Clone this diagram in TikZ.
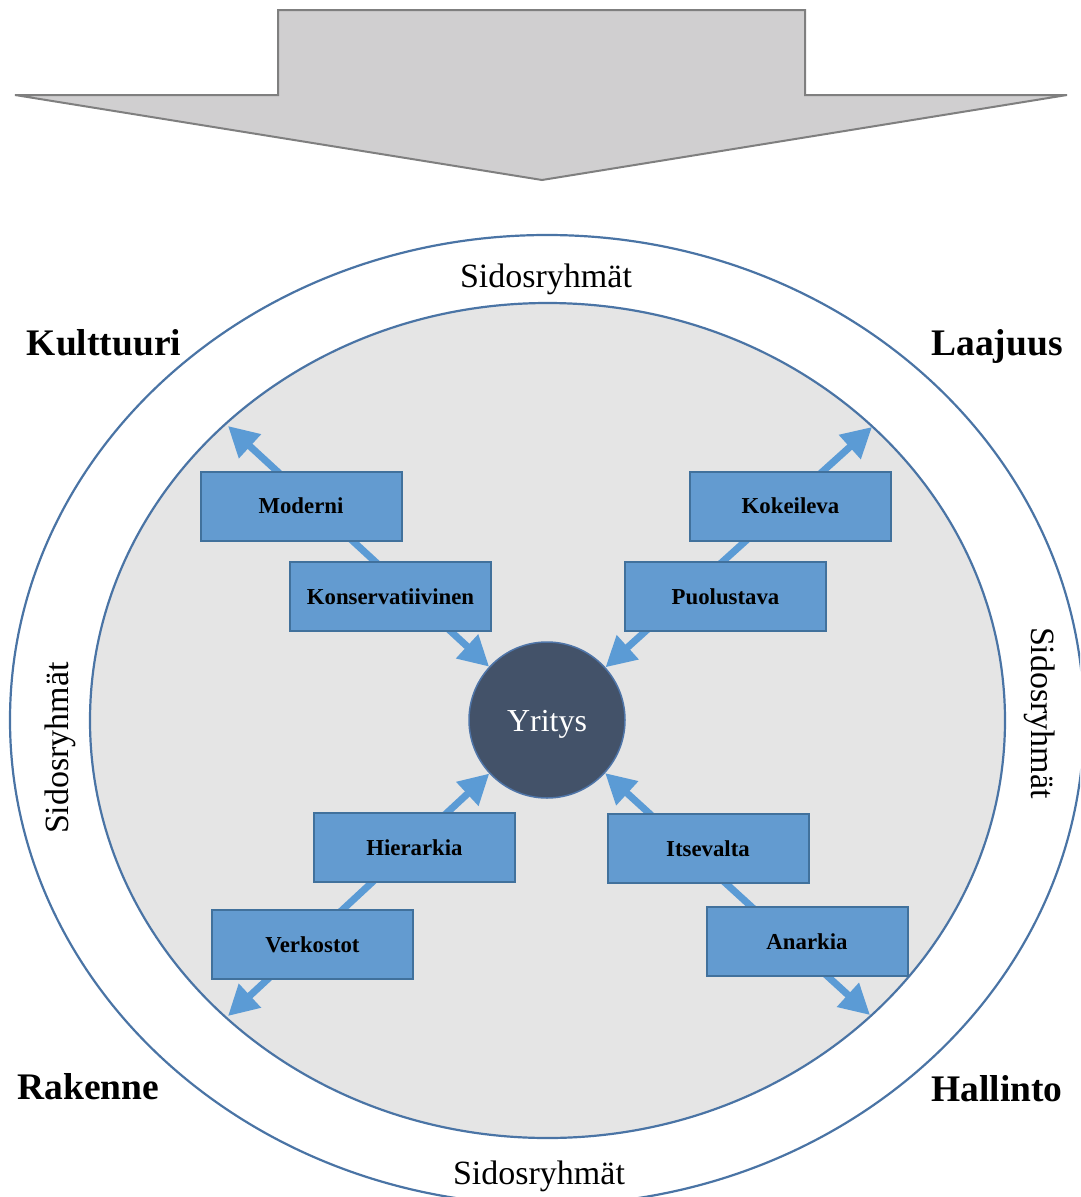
\documentclass[tikz,border=0pt]{standalone}
\usepackage{fontspec}
\setmainfont{Liberation Serif}
\usetikzlibrary{arrows.meta}

\definecolor{arrowgray}{HTML}{D0CFD0}
\definecolor{arrowedge}{HTML}{7F7F7F}
\definecolor{ringedge}{HTML}{4A74A5}
\definecolor{innerfill}{HTML}{E5E5E5}
\definecolor{boxfill}{HTML}{639BD0}
\definecolor{boxedge}{HTML}{41719C}
\definecolor{linkblue}{HTML}{5B9BD5}
\definecolor{corefill}{HTML}{435269}
\definecolor{coreedge}{HTML}{4F75A8}

\tikzset{
  ring/.style={draw=ringedge, line width=2.2pt},
  stylebox/.style={draw=boxedge, fill=boxfill, line width=2pt,
    minimum width=201pt, minimum height=69pt, inner sep=0pt,
    font=\fontsize{22.8}{24}\selectfont\bfseries},
  corner/.style={font=\fontsize{37.5}{40}\selectfont\bfseries, inner sep=0pt, anchor=base},
  stake/.style={font=\fontsize{34}{38}\selectfont, inner sep=0pt},
  link/.style={draw=linkblue, line width=7pt,
    {Triangle[length=30pt,width=31pt]}-{Triangle[length=30pt,width=31pt]}},
}

\begin{document}
\begin{tikzpicture}[x=1pt,y=-1pt]
\useasboundingbox (0,0) rectangle (1080,1197);
\clip (0,0) rectangle (1080,1197);

% big downward block arrow
\draw[fill=arrowgray, draw=arrowedge, line width=2pt, line join=miter]
  (278,10) -- (805,10) -- (805,95) -- (1067,95) -- (542,180)
  -- (15,95) -- (278,95) -- cycle;

% stakeholder ring and inner field
\draw[ring, fill=white] (547,720) ellipse [x radius=537, y radius=485];
\draw[ring, fill=innerfill] (547.5,720.5) ellipse [x radius=457.5, y radius=417.5];

% ring labels
\node[stake] (stop) at (546,279) {Sidosryhmät};
\node[stake] (sbottom) at (539,1176) {Sidosryhmät};
\node[stake, rotate=90] (sleft) at (60,748) {Sidosryhmät};
\node[stake, rotate=-90] (sright) at (1040,713) {Sidosryhmät};

% corner labels
\node[corner] (kulttuuri) at (104,355) {Kulttuuri};
\node[corner] (laajuus) at (997,355) {Laajuus};
\node[corner] (rakenne) at (88.5,1099) {Rakenne};
\node[corner] (hallinto) at (997,1101) {Hallinto};

% company at the centre
\node[circle, minimum size=156pt, inner sep=0pt, fill=corefill,
  draw=coreedge, line width=1.5pt, text=white,
  font=\fontsize{32}{34}\selectfont] (yritys) at (547,720) {};
\node[text=white, font=\fontsize{32}{34}\selectfont, inner sep=0pt]
  (yritysname) at (547,724) {Yritys};

% end points of the axes on the inner field
\coordinate (tl) at (228,426);
\coordinate (tr) at (872,427);
\coordinate (bl) at (228,1016);
\coordinate (br) at (870,1015);

% axes
\draw[link] (tl) -- (yritys);
\draw[link] (tr) -- (yritys);
\draw[link] (bl) -- (yritys);
\draw[link] (br) -- (yritys);

% poles of each axis
\node[stylebox] (moderni) at (301,506) {Moderni};
\node[stylebox] (konservatiivinen) at (390.5,596.5) {Konservatiivinen};
\node[stylebox] (kokeileva) at (790.5,506) {Kokeileva};
\node[stylebox] (puolustava) at (725.5,596.5) {Puolustava};
\node[stylebox] (hierarkia) at (414.5,847.5) {Hierarkia};
\node[stylebox] (verkostot) at (312.5,944.5) {Verkostot};
\node[stylebox] (itsevalta) at (708,848.5) {Itsevalta};
\node[stylebox] (anarkia) at (807,941.5) {Anarkia};
\end{tikzpicture}
\end{document}
